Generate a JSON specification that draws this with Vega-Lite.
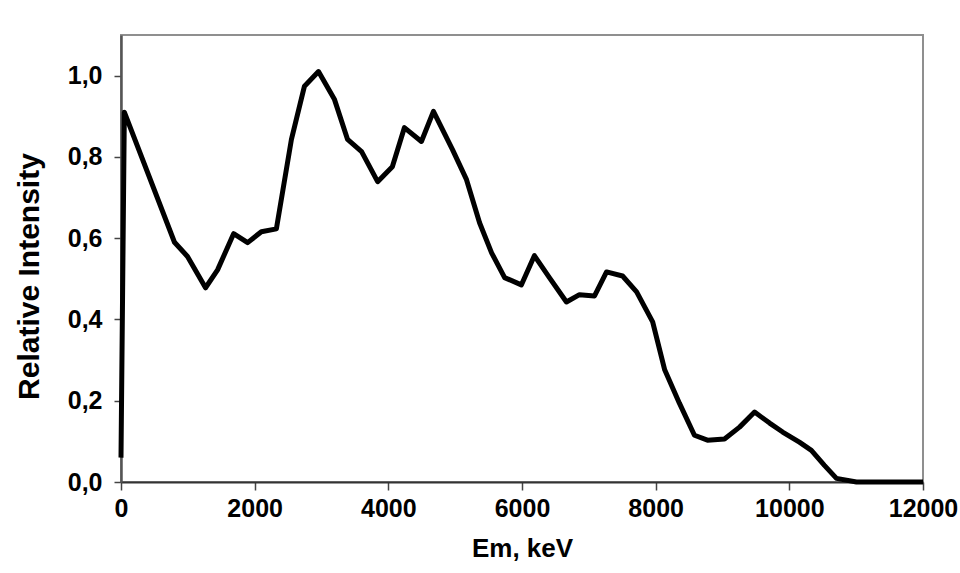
{
  "$schema": "https://vega.github.io/schema/vega-lite/v6.json",
  "width": 802,
  "height": 447,
  "autosize": {"type": "none"},
  "padding": {"left": 121, "top": 35, "right": 37, "bottom": 91},
  "background": "white",
  "config": {
    "view": {"stroke": "#8f8f8f", "strokeWidth": 2},
    "font": "Liberation Sans"
  },
  "data": {
    "values": [
      {"energy": 0, "intensity": 0.06},
      {"energy": 50, "intensity": 0.91},
      {"energy": 800, "intensity": 0.59},
      {"energy": 995, "intensity": 0.555},
      {"energy": 1265, "intensity": 0.478},
      {"energy": 1445, "intensity": 0.522},
      {"energy": 1685, "intensity": 0.611},
      {"energy": 1895, "intensity": 0.589},
      {"energy": 2100, "intensity": 0.616},
      {"energy": 2325, "intensity": 0.623},
      {"energy": 2550, "intensity": 0.843},
      {"energy": 2745, "intensity": 0.974},
      {"energy": 2955, "intensity": 1.01},
      {"energy": 3195, "intensity": 0.941},
      {"energy": 3390, "intensity": 0.843},
      {"energy": 3600, "intensity": 0.813},
      {"energy": 3840, "intensity": 0.739},
      {"energy": 4060, "intensity": 0.776},
      {"energy": 4240, "intensity": 0.872},
      {"energy": 4495, "intensity": 0.838},
      {"energy": 4675, "intensity": 0.912},
      {"energy": 4960, "intensity": 0.818},
      {"energy": 5170, "intensity": 0.744},
      {"energy": 5365, "intensity": 0.638},
      {"energy": 5545, "intensity": 0.564},
      {"energy": 5740, "intensity": 0.503},
      {"energy": 5990, "intensity": 0.485},
      {"energy": 6185, "intensity": 0.557},
      {"energy": 6410, "intensity": 0.503},
      {"energy": 6665, "intensity": 0.443},
      {"energy": 6860, "intensity": 0.461},
      {"energy": 7085, "intensity": 0.458},
      {"energy": 7265, "intensity": 0.517},
      {"energy": 7505, "intensity": 0.507},
      {"energy": 7715, "intensity": 0.468},
      {"energy": 7955, "intensity": 0.394},
      {"energy": 8135, "intensity": 0.276},
      {"energy": 8355, "intensity": 0.194},
      {"energy": 8580, "intensity": 0.115},
      {"energy": 8775, "intensity": 0.103},
      {"energy": 9030, "intensity": 0.106},
      {"energy": 9255, "intensity": 0.135},
      {"energy": 9480, "intensity": 0.172},
      {"energy": 9705, "intensity": 0.145},
      {"energy": 9900, "intensity": 0.123},
      {"energy": 10150, "intensity": 0.098},
      {"energy": 10330, "intensity": 0.078},
      {"energy": 10525, "intensity": 0.041},
      {"energy": 10705, "intensity": 0.009},
      {"energy": 11005, "intensity": 0.0},
      {"energy": 12000, "intensity": 0.0}
    ]
  },
  "mark": {"type": "line", "color": "black", "strokeWidth": 5, "strokeJoin": "round", "strokeCap": "butt"},
  "encoding": {
    "x": {
      "field": "energy",
      "type": "quantitative",
      "scale": {"domain": [0, 12000], "nice": false, "zero": false},
      "axis": {
        "values": [0, 2000, 4000, 6000, 8000, 10000, 12000],
        "format": "d",
        "grid": false,
        "title": "Em, keV",
        "titleFont": "Liberation Sans",
        "titleFontSize": 26,
        "titleFontWeight": "bold",
        "titleColor": "black",
        "titleBaseline": "alphabetic",
        "titleY": 74,
        "labelFont": "Liberation Sans",
        "labelFontSize": 25,
        "labelFontWeight": "bold",
        "labelColor": "black",
        "labelPadding": 6,
        "labelFlush": false,
        "labelOverlap": false,
        "tickSize": 8,
        "tickColor": "#444",
        "tickWidth": 1.5,
        "domainColor": "#333",
        "domainWidth": 2
      }
    },
    "y": {
      "field": "intensity",
      "type": "quantitative",
      "scale": {"domain": [0, 1.1], "nice": false},
      "axis": {
        "values": [0, 0.2, 0.4, 0.6, 0.8, 1.0],
        "labelExpr": "replace(format(datum.value, '.1f'), '.', ',')",
        "grid": false,
        "title": "Relative Intensity",
        "titleFont": "Liberation Sans",
        "titleFontSize": 30,
        "titleFontWeight": "bold",
        "titleColor": "black",
        "titleAngle": -90,
        "titleAlign": "center",
        "titleBaseline": "alphabetic",
        "titleX": -83,
        "titleY": 241,
        "labelFont": "Liberation Sans",
        "labelFontSize": 25,
        "labelFontWeight": "bold",
        "labelColor": "black",
        "labelPadding": 12,
        "labelFlush": false,
        "labelOverlap": false,
        "tickSize": 7,
        "tickColor": "#444",
        "tickWidth": 1.5,
        "domainColor": "#555",
        "domainWidth": 2.5
      }
    }
  }
}
